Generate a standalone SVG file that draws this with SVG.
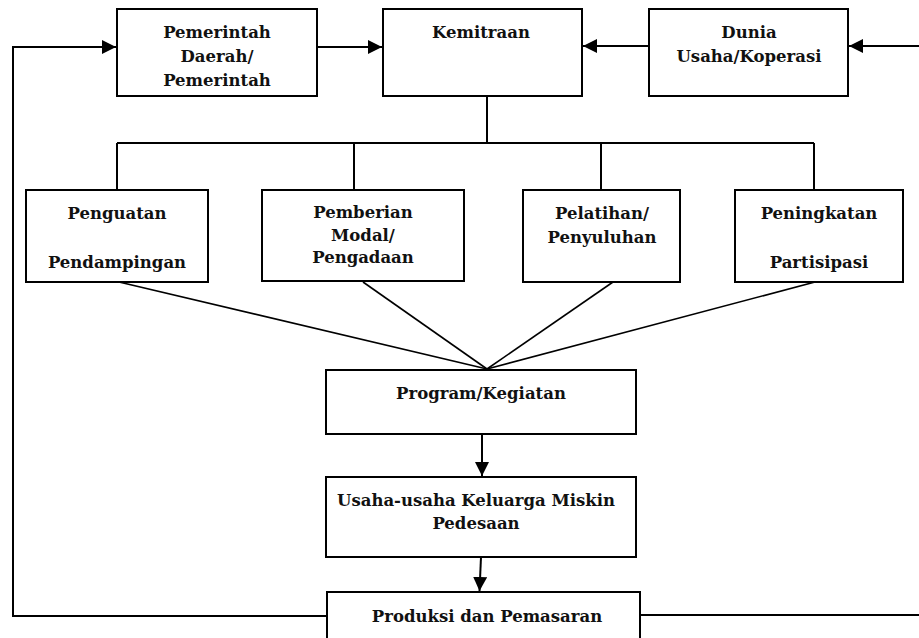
<svg xmlns="http://www.w3.org/2000/svg" width="919" height="638" viewBox="0 0 919 638">
<style>
.box{fill:#fff;stroke:#000;stroke-width:2}
.ln{fill:none;stroke:#000;stroke-width:2}
.dg{fill:none;stroke:#000;stroke-width:1.6}
text{font-family:"DejaVu Serif","Liberation Serif",serif;font-weight:bold;font-size:16.5px;fill:#111;text-anchor:middle}
</style>
<defs>
<marker id="ah" markerUnits="userSpaceOnUse" markerWidth="14" markerHeight="14" refX="14" refY="7" orient="auto">
<path d="M0,0 L14,7 L0,14 Z" fill="#000"/>
</marker>
</defs>
<g id="connectors">
<polyline class="ln" points="326,616 13,616 13,47 116,47" marker-end="url(#ah)"/>
<line class="ln" x1="317" y1="47" x2="382" y2="47" marker-end="url(#ah)"/>
<line class="ln" x1="649" y1="46" x2="583" y2="46" marker-end="url(#ah)"/>
<line class="ln" x1="919" y1="46" x2="849" y2="46" marker-end="url(#ah)"/>
<line class="ln" x1="640" y1="615" x2="919" y2="615"/>
<line class="ln" x1="487" y1="96" x2="487" y2="143"/>
<line class="ln" x1="117" y1="143" x2="814" y2="143"/>
<line class="ln" x1="117" y1="143" x2="117" y2="190"/>
<line class="ln" x1="354" y1="143" x2="354" y2="190"/>
<line class="ln" x1="601" y1="143" x2="601" y2="190"/>
<line class="ln" x1="814" y1="143" x2="814" y2="190"/>
<line class="dg" x1="119" y1="282" x2="487" y2="369"/>
<line class="dg" x1="363" y1="282" x2="487" y2="369"/>
<line class="dg" x1="613" y1="282" x2="487" y2="369"/>
<line class="dg" x1="815" y1="282" x2="487" y2="369"/>
<line class="ln" x1="482" y1="434" x2="482" y2="476" marker-end="url(#ah)"/>
<line class="ln" x1="481" y1="557" x2="479.5" y2="591" marker-end="url(#ah)"/>
</g>
<g id="pemerintah">
<rect class="box" x="117" y="9" width="200" height="87"/>
<text x="217" y="38">Pemerintah</text>
<text x="217" y="62">Daerah/</text>
<text x="217" y="86">Pemerintah</text>
</g>
<g id="kemitraan">
<rect class="box" x="383" y="9" width="199" height="87"/>
<text x="481" y="38">Kemitraan</text>
</g>
<g id="dunia">
<rect class="box" x="649" y="9" width="199" height="87"/>
<text x="749" y="38">Dunia</text>
<text x="749" y="62">Usaha/Koperasi</text>
</g>
<g id="penguatan">
<rect class="box" x="26" y="190" width="182" height="92"/>
<text x="117" y="219">Penguatan</text>
<text x="117" y="268">Pendampingan</text>
</g>
<g id="pemberian">
<rect class="box" x="262" y="190" width="202" height="91"/>
<text x="363" y="218">Pemberian</text>
<text x="363" y="241">Modal/</text>
<text x="363" y="263">Pengadaan</text>
</g>
<g id="pelatihan">
<rect class="box" x="523" y="190" width="157" height="92"/>
<text x="602" y="219">Pelatihan/</text>
<text x="602" y="243">Penyuluhan</text>
</g>
<g id="peningkatan">
<rect class="box" x="735" y="190" width="168" height="92"/>
<text x="819" y="219">Peningkatan</text>
<text x="819" y="268">Partisipasi</text>
</g>
<g id="program">
<rect class="box" x="326" y="370" width="310" height="64"/>
<text x="481" y="399">Program/Kegiatan</text>
</g>
<g id="usaha">
<rect class="box" x="326" y="477" width="310" height="80"/>
<text x="476" y="506">Usaha-usaha Keluarga Miskin</text>
<text x="476" y="529">Pedesaan</text>
</g>
<g id="produksi">
<rect class="box" x="327" y="592" width="313" height="70"/>
<text x="487" y="622">Produksi dan Pemasaran</text>
</g>
</svg>
